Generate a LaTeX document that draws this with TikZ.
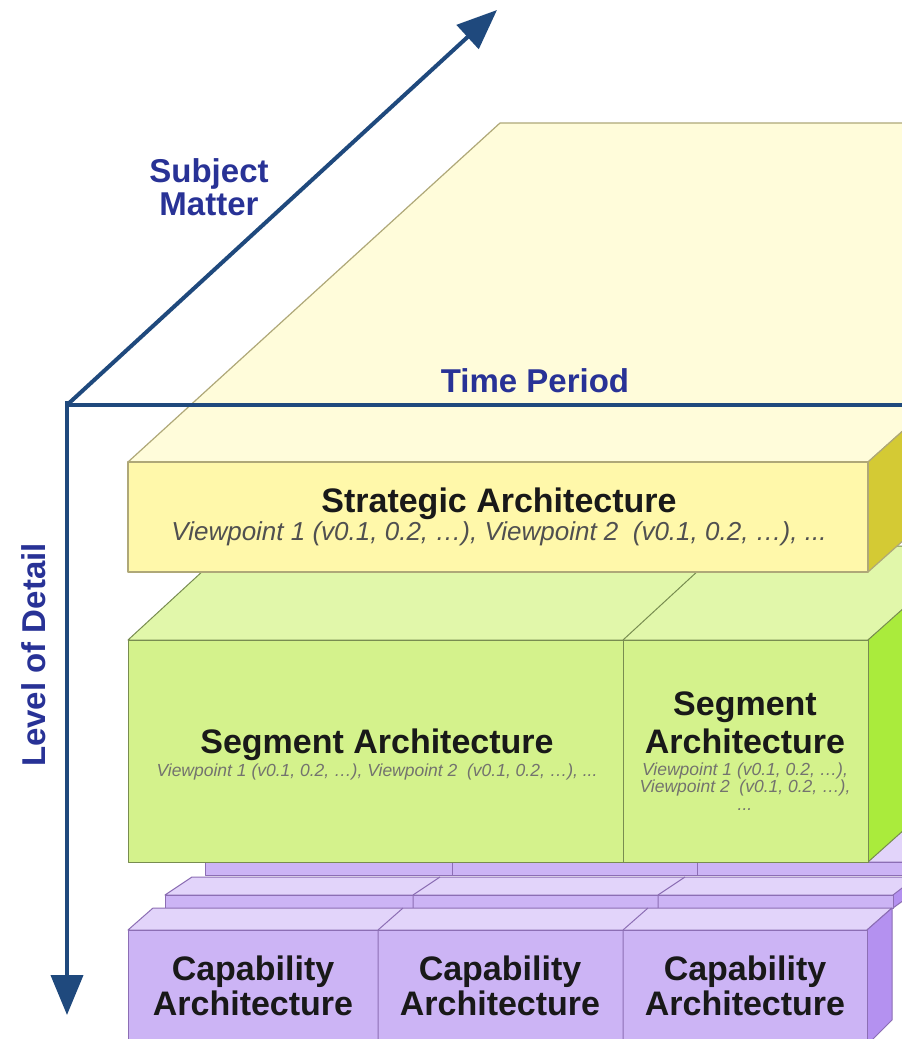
\documentclass[tikz,border=0pt]{standalone}
\usepackage{fontspec}
\setmainfont{Liberation Sans}
\usetikzlibrary{arrows.meta}
\definecolor{axisline}{RGB}{31,73,125}
\definecolor{axistext}{RGB}{40,50,150}
\definecolor{ytop}{RGB}{255,252,218}
\definecolor{yfront}{RGB}{255,248,170}
\definecolor{yside}{RGB}{212,202,52}
\definecolor{yedge}{RGB}{175,168,120}
\definecolor{gtop}{RGB}{225,247,170}
\definecolor{gfront}{RGB}{212,242,140}
\definecolor{gside}{RGB}{170,235,60}
\definecolor{gedge}{RGB}{120,140,80}
\definecolor{ptop}{RGB}{226,212,250}
\definecolor{pfront}{RGB}{204,180,245}
\definecolor{pside}{RGB}{180,145,240}
\definecolor{pedge}{RGB}{140,110,180}
\definecolor{boxtext}{RGB}{25,25,25}
\definecolor{subtext}{RGB}{80,80,80}
\definecolor{faint}{RGB}{115,115,110}
\begin{document}
\begin{tikzpicture}[x=1pt,y=-1pt,
  yface/.style={fill=#1,draw=yedge,line width=1.2pt,line join=round},
  gface/.style={fill=#1,draw=gedge,line width=1pt,line join=round},
  pface/.style={fill=#1,draw=pedge,line width=1pt,line join=round},
  axisarrow/.style={draw=axisline,line width=4pt,-{Triangle[length=40pt,width=32pt]}},
  axisplain/.style={draw=axisline,line width=4pt},
  axislabel/.style={text=axistext,font=\fontsize{33}{33}\selectfont\bfseries,inner sep=0pt,anchor=base},
  boxtitle/.style={text=boxtext,font=\fontsize{34}{34}\selectfont\bfseries,inner sep=0pt,anchor=base},
  bigsub/.style={text=subtext,font=\fontsize{26}{26}\selectfont\itshape,inner sep=0pt,anchor=base},
  smallsub/.style={text=faint,font=\fontsize{17.5}{17.5}\selectfont\itshape,inner sep=0pt,anchor=base}
]
\useasboundingbox (0,0) rectangle (902,1039);
\clip (0,0) rectangle (902,1039);
\fill[white] (0,0) rectangle (902,1039);

% ---------- strategic layer: top face ----------
\path[yface=ytop] (128,462) -- (500,123) -- (915,123) -- (915,420) -- (868,462) -- cycle;

% ---------- segment layer: top face ----------
\path[gface=gtop] (128,640) -- (230,546) -- (915,546) -- (915,600) -- (868,640) -- cycle;
\draw[gedge,line width=1pt] (623,640) -- (700,569);

% ---------- strategic layer: front and side ----------
\path[yface=yside] (868,462) -- (915,420) -- (915,530) -- (868,572) -- cycle;
\path[yface=yfront] (128,462) rectangle (868,572);

% ---------- capability layer: back row ----------
\path[pface=ptop] (205,862) -- (245,826) -- (915,826) -- (915,862) -- cycle;
\path[pface=pfront] (205,862) rectangle (915,875);
\draw[pedge,line width=1pt] (452,862) -- (452,875) (697,862) -- (697,875);

% ---------- capability layer: middle row ----------
\path[pface=ptop] (165,895) -- (192,877) -- (915,877) -- (915,895) -- cycle;
\path[pface=pside] (893,895) -- (915,878) -- (915,892) -- (893,908) -- cycle;
\path[pface=pfront] (165,895) rectangle (893,908);
\draw[pedge,line width=1pt] (413,895) -- (413,908) (658,895) -- (658,908)
  (413,895) -- (440,877) (658,895) -- (685,877);

% ---------- capability layer: front row ----------
\path[pface=ptop] (128,930) -- (153,908) -- (892,908) -- (867,930) -- cycle;
\path[pface=pside] (867,930) -- (892,908) -- (892,1020) -- (867,1045) -- cycle;
\path[pface=pfront] (128,930) rectangle (867,1045);
\draw[pedge,line width=1pt] (378,930) -- (378,1045) (623,930) -- (623,1045)
  (378,930) -- (403,908) (623,930) -- (648,908);

% ---------- segment layer: front and side ----------
\path[gface=gside] (868,640) -- (915,598) -- (915,820) -- (868,862) -- cycle;
\path[gface=gfront] (128,640) rectangle (868,862);
\draw[gedge,line width=1pt] (623,640) -- (623,862);

% ---------- texts in the boxes ----------
\node[boxtitle] (strat) at (499,512) {Strategic Architecture};
\node[bigsub] (stratvp) at (499,540) {Viewpoint 1 (v0.1, 0.2, …), Viewpoint 2\ \ (v0.1, 0.2, …), ...};

\node[boxtitle] (seg1) at (377,753) {Segment Architecture};
\node[smallsub] (seg1vp) at (377,776) {Viewpoint 1 (v0.1, 0.2, …), Viewpoint 2\ \ (v0.1, 0.2, …), ...};

\node[boxtitle] (seg2a) at (745,715) {Segment};
\node[boxtitle] (seg2b) at (745,753) {Architecture};
\node[smallsub] (seg2vp1) at (745,775) {Viewpoint 1 (v0.1, 0.2, …),};
\node[smallsub] (seg2vp2) at (745,792) {Viewpoint 2\ \ (v0.1, 0.2, …),};
\node[smallsub] (seg2vp3) at (745,810) {...};

\foreach \cx/\nm in {253/capA,500/capB,745/capC}{
  \node[boxtitle] (\nm1) at (\cx,980) {Capability};
  \node[boxtitle] (\nm2) at (\cx,1015) {Architecture};
}

% ---------- axes ----------
\coordinate (O) at (67,405);
\coordinate (SM) at (497,10);
\coordinate (TP) at (915,405);
\coordinate (LD) at (67,1015);
\draw[axisplain] (O) -- (TP);
\draw[axisarrow] (O) -- (SM);
\draw[axisarrow] (O) -- (LD);
\draw[axisplain,line cap=rect] (67,403) -- (67,407);

\node[axislabel] (sm1) at (209,182) {Subject};
\node[axislabel] (sm2) at (209,215) {Matter};
\node[axislabel] (tp) at (535,392) {Time Period};
\node[axislabel,rotate=90] (ld) at (45,655) {Level of Detail};
\end{tikzpicture}
\end{document}
